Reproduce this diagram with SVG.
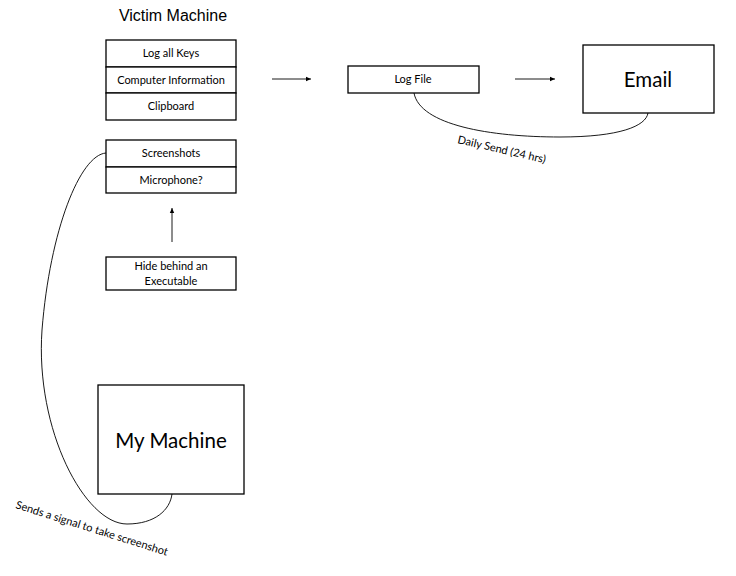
<svg xmlns="http://www.w3.org/2000/svg" width="736" height="576" viewBox="0 0 736 576">
<style>
.box{fill:#fff;stroke:#000;stroke-width:1.3}
.t{font-family:Lato,"Open Sans",sans-serif;font-size:11px;fill:#000;text-anchor:middle}
.big{font-family:Lato,"Open Sans",sans-serif;font-size:20.5px;fill:#000;text-anchor:middle}
.title{font-family:"Liberation Sans",Arial,sans-serif;font-size:16px;fill:#000;text-anchor:middle}
.c{fill:none;stroke:#000;stroke-width:0.9}
</style>
<defs>
<marker id="ah" markerWidth="6" markerHeight="6" refX="5" refY="3" orient="auto" markerUnits="userSpaceOnUse">
<path d="M0,0.8 L5,3 L0,5.2 Z" fill="#000"/>
</marker>
</defs>
<rect width="736" height="576" fill="#fff"/>
<text class="title" x="173" y="21">Victim Machine</text>
<g id="victim-stack">
<rect class="box" x="106" y="40" width="130" height="27"/>
<text class="t" x="171" y="57">Log all Keys</text>
<rect class="box" x="106" y="67" width="130" height="26"/>
<text class="t" x="171" y="84">Computer Information</text>
<rect class="box" x="106" y="93" width="130" height="27"/>
<text class="t" x="171" y="110">Clipboard</text>
</g>
<g id="capture-stack">
<rect class="box" x="106" y="140" width="130" height="27"/>
<text class="t" x="171" y="157">Screenshots</text>
<rect class="box" x="106" y="167" width="130" height="26"/>
<text class="t" x="171" y="184">Microphone?</text>
</g>
<g id="hide">
<rect class="box" x="106" y="257" width="130" height="33"/>
<text class="t" x="171" y="270">Hide behind an</text>
<text class="t" x="171" y="285">Executable</text>
</g>
<g id="logfile">
<rect class="box" x="348" y="66" width="131" height="27"/>
<text class="t" x="413" y="83">Log File</text>
</g>
<g id="email">
<rect class="box" x="583" y="45" width="131" height="68"/>
<text class="big" x="648" y="87">Email</text>
</g>
<g id="mymachine">
<rect class="box" x="98" y="385" width="146" height="109"/>
<text class="big" x="171" y="448">My Machine</text>
</g>
<g id="connectors">
<line class="c" x1="272" y1="79" x2="311" y2="79" marker-end="url(#ah)"/>
<line class="c" x1="515" y1="79" x2="555" y2="79" marker-end="url(#ah)"/>
<line class="c" x1="172" y1="242" x2="172" y2="208" marker-end="url(#ah)"/>
<path class="c" d="M414,93 C420,125 490,137 560,137 C620,137 646,126 648,113"/>
<path class="c" d="M106,153 C80,155 50,230 42,330 C35,430 85,524 127,524 C155,524 170,510 172,494"/>
<text class="t" style="text-anchor:start" transform="translate(457,143) rotate(13)">Daily Send (24 hrs)</text>
<text class="t" style="text-anchor:start" transform="translate(15,508) rotate(17.5)">Sends a signal to take screenshot</text>
</g>
</svg>
